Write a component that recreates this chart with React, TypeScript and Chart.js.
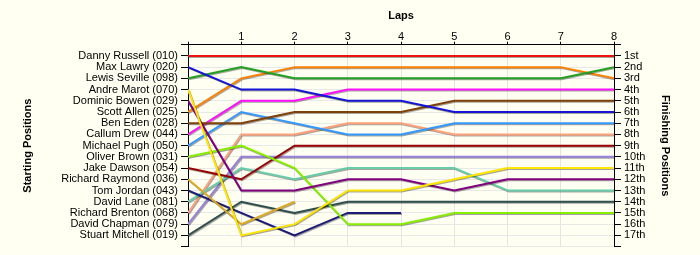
import React, { useEffect, useRef } from 'react';
import { Chart, registerables } from 'chart.js';

Chart.register(...registerables);

// Laps (x axis) and their tick labels
const lapTickLabels = ['', '1', '2', '3', '4', '5', '6', '7', '8'];

// Starting grid (left axis labels, top to bottom)
const startingNames = [
  'Danny Russell (010)',
  'Max Lawry (020)',
  'Lewis Seville (098)',
  'Andre Marot (070)',
  'Dominic Bowen (029)',
  'Scott Allen (025)',
  'Ben Eden (028)',
  'Callum Drew (044)',
  'Michael Pugh (050)',
  'Oliver Brown (031)',
  'Jake Dawson (054)',
  'Richard Raymond (036)',
  'Tom Jordan (043)',
  'David Lane (081)',
  'Richard Brenton (068)',
  'David Chapman (079)',
  'Stuart Mitchell (019)',
];

// Finishing positions (right axis labels)
const finishingLabels = [
  '1st', '2nd', '3rd', '4th', '5th', '6th', '7th', '8th', '9th',
  '10th', '11th', '12th', '13th', '14th', '15th', '16th', '17th',
];

// Position of each driver at each lap (index = lap number)
const dannyRussell = [1, 1, 1, 1, 1, 1, 1, 1, 1];
const maxLawry = [2, 4, 4, 5, 5, 6, 6, 6, 6];
const lewisSeville = [3, 2, 3, 3, 3, 3, 3, 3, 2];
const andreMarot = [4, 17, 16, 13, 13, 12, 11, 11, 11];
const dominicBowen = [5, 13, 13, 12, 12, 13, 12, 12, 12];
const scottAllen = [6, 3, 2, 2, 2, 2, 2, 2, 3];
const benEden = [7, 7, 6, 6, 6, 5, 5, 5, 5];
const callumDrew = [8, 5, 5, 4, 4, 4, 4, 4, 4];
const michaelPugh = [9, 6, 7, 8, 8, 7, 7, 7, 7];
const oliverBrown = [10, 9, 11, 16, 16, 15, 15, 15, 15];
const jakeDawson = [11, 12, 9, 9, 9, 9, 9, 9, 9];
const richardRaymond = [12, 16, 14];
const tomJordan = [13, 15, 17, 15, 15];
const davidLane = [14, 11, 12, 11, 11, 11, 13, 13, 13];
const richardBrenton = [15, 8, 8, 7, 7, 8, 8, 8, 8];
const davidChapman = [16, 10, 10, 10, 10, 10, 10, 10, 10];
const stuartMitchell = [17, 14, 15, 14, 14, 14, 14, 14, 14];

const driverPositions = [
  dannyRussell, maxLawry, lewisSeville, andreMarot, dominicBowen, scottAllen,
  benEden, callumDrew, michaelPugh, oliverBrown, jakeDawson, richardRaymond,
  tomJordan, davidLane, richardBrenton, davidChapman, stuartMitchell,
];

const driverColors = [
  '#ee1111', '#1515d5', '#22a022', '#ffe600', '#800080', '#ff8000',
  '#80400a', '#ff10ff', '#3399ff', '#88ee00', '#990000', '#ddaa22',
  '#1c1c78', '#66ccaa', '#ffa07a', '#9980dd', '#2f4f4f',
];

const BG = '#fffff2';
const FONT = 'Liberation Sans, Arial, sans-serif';

const shadowPlugin = {
  id: 'lineShadow',
  beforeDatasetDraw(chart: any) {
    const ctx = chart.ctx;
    ctx.save();
    ctx.shadowColor = 'rgba(0,0,0,0.35)';
    ctx.shadowOffsetX = 1;
    ctx.shadowOffsetY = 1;
    ctx.shadowBlur = 0.5;
  },
  afterDatasetDraw(chart: any) {
    chart.ctx.restore();
  },
};

const bgPlugin = {
  id: 'bgFill',
  beforeDraw(chart: any) {
    const ctx = chart.ctx;
    ctx.save();
    ctx.fillStyle = BG;
    ctx.fillRect(0, 0, chart.width, chart.height);
    ctx.restore();
  },
};

export default function App() {
  const ref = useRef<HTMLCanvasElement | null>(null);

  useEffect(() => {
    document.body.style.margin = '0';
    document.body.style.background = BG;
    if (!ref.current) return;

    const datasets = driverPositions.map((arr, i) => ({
      label: startingNames[i],
      data: arr.map((p, lap) => ({ x: lap, y: p })),
      borderColor: driverColors[i],
      backgroundColor: driverColors[i],
      borderWidth: 2,
      pointRadius: 0,
      tension: 0,
      fill: false,
      yAxisID: 'y',
      xAxisID: 'x',
    }));

    const tickFont = { family: FONT, size: 11, lineHeight: 1.2 };
    const titleFont = { family: FONT, size: 11, weight: 'bold' as const, lineHeight: 1.2 };

    const chart = new Chart(ref.current, {
      type: 'line',
      data: { datasets },
      plugins: [bgPlugin, shadowPlugin],
      options: {
        animation: false,
        responsive: false,
        maintainAspectRatio: false,
        layout: { padding: { left: 0, right: 0, top: 0, bottom: 8.4 } },
        plugins: {
          legend: { display: false },
          tooltip: { enabled: false },
          title: { display: false },
        },
        scales: {
          x: {
            type: 'linear',
            position: 'top',
            min: 0,
            max: 8,
            ticks: {
              stepSize: 1,
              autoSkip: false,
              maxRotation: 0,
              padding: -1.5,
              color: '#000',
              font: tickFont,
              callback: (v: any) => lapTickLabels[Number(v)] ?? '',
            },
            grid: {
              color: '#e4e4e4',
              tickColor: '#000',
              tickLength: 3,
              drawOnChartArea: true,
            },
            border: { color: '#000', width: 1 },
            title: {
              display: true,
              text: 'Laps',
              color: '#000',
              font: titleFont,
              padding: { top: 9, bottom: 0 },
            },
            afterFit: (s: any) => {
              s.height = 44.7;
              s.paddingLeft = 0;
              s.paddingRight = 0;
            },
          },
          y: {
            type: 'linear',
            position: 'left',
            reverse: true,
            min: 0,
            max: 18,
            ticks: {
              stepSize: 1,
              autoSkip: false,
              padding: 3,
              color: '#000',
              font: tickFont,
              callback: (v: any) => startingNames[Number(v) - 1] ?? '',
            },
            grid: {
              color: '#e8e8e8',
              tickColor: '#000',
              tickLength: 7,
            },
            border: { color: '#000', width: 1 },
            title: {
              display: true,
              text: 'Starting Positions',
              color: '#000',
              font: titleFont,
              padding: { top: 21.4, bottom: 0 },
            },
            afterFit: (s: any) => {
              s.width = 188;
              s.paddingTop = 0;
              s.paddingBottom = 0;
            },
          },
          y2: {
            type: 'linear',
            position: 'right',
            reverse: true,
            min: 0,
            max: 18,
            ticks: {
              stepSize: 1,
              autoSkip: false,
              padding: 3,
              color: '#000',
              font: tickFont,
              callback: (v: any) => finishingLabels[Number(v) - 1] ?? '',
            },
            grid: {
              drawOnChartArea: false,
              tickColor: '#000',
              tickLength: 7,
            },
            border: { color: '#000', width: 1 },
            title: {
              display: true,
              text: 'Finishing Positions',
              color: '#000',
              font: titleFont,
              padding: { top: 27.9, bottom: 0 },
            },
            afterFit: (s: any) => {
              s.width = 86;
              s.paddingTop = 0;
              s.paddingBottom = 0;
            },
          },
        },
      } as any,
    });

    return () => chart.destroy();
  }, []);

  return (
    <div style={{ width: 700, height: 255, background: BG }}>
      <canvas ref={ref} width={700} height={255} style={{ display: 'block' }} />
    </div>
  );
}
